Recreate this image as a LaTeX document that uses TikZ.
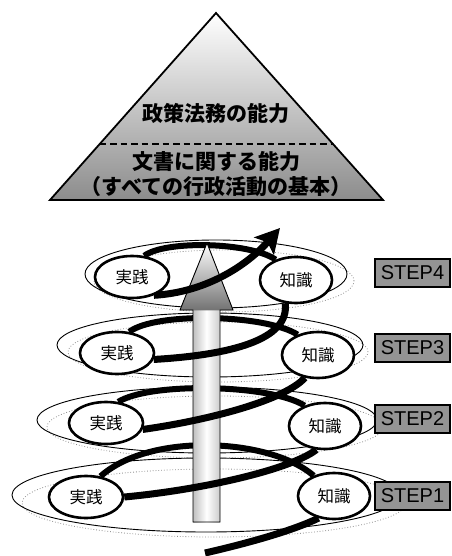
\documentclass[tikz,border=0pt]{standalone}
\usepackage{fontspec}
\newfontfamily\jp{Noto Sans CJK JP}
\newfontfamily\arial{Liberation Sans}
\usetikzlibrary{shapes.geometric,arrows.meta}
\pgfdeclarelayer{ell}
\pgfdeclarelayer{back}
\pgfdeclarelayer{shaft}
\pgfdeclarelayer{front}
\pgfsetlayers{ell,back,shaft,front,main}
\begin{document}
\begin{tikzpicture}[x=1pt,y=-1pt,
  stage/.style={ellipse, draw, line width=2.6pt, fill=white, inner sep=0pt, font=\jp\fontsize{16.5}{18}\selectfont},
  jnode/.style={stage, minimum width=74pt, minimum height=42pt},
  knode/.style={stage, minimum width=72pt, minimum height=46pt},
  ring/.style={draw=black, line width=0.9pt},
  dotring/.style={draw=black!45, line width=0.8pt, dotted},
  coil/.style={line width=6pt},
  coilfront/.style={line width=7pt},
  steplabel/.style={draw, line width=1.2pt, fill=black!42, minimum width=75pt, minimum height=28pt, inner sep=0pt, font=\arial\fontsize{20}{22}\selectfont},
  pyrtext/.style={font=\jp\bfseries\fontsize{21}{25}\selectfont, align=center}
]
\useasboundingbox (0,0) rectangle (451,556);
% pyramid
\path[top color=white, bottom color=black!45, draw, line width=1.8pt, line join=miter] (216,13) -- (383,200) -- (50,200) -- cycle;
\draw[line width=1.8pt, dash pattern=on 6.5pt off 4pt] (99.5,144) -- (332.5,144);
\node[pyrtext] (t1) at (216,113) {政策法務の能力};
\node[pyrtext] (t2) at (216,174.5) {文書に関する能力\\（すべての行政活動の基本）};
% rings
\begin{pgfonlayer}{ell}
\draw[dotring] (214,503) ellipse [x radius=192pt, y radius=34pt];
\draw[ring] (206,495) ellipse [x radius=194pt, y radius=37pt];
\draw[dotring] (215,427) ellipse [x radius=168pt, y radius=31pt];
\draw[ring] (207,420) ellipse [x radius=170pt, y radius=33pt];
\draw[dotring] (218,352) ellipse [x radius=150pt, y radius=30pt];
\draw[ring] (210,345) ellipse [x radius=153pt, y radius=32pt];
\draw[dotring] (224,281) ellipse [x radius=130pt, y radius=31pt];
\draw[ring] (216,274) ellipse [x radius=131pt, y radius=34pt];
\end{pgfonlayer}
% vertical arrow
\begin{pgfonlayer}{shaft}
\fill[left color=black!25, right color=black!20, middle color=white] (193,310) rectangle (220,522);
\fill[top color=white, bottom color=black!55] (180,310) -- (207,243) -- (233,310) -- cycle;
\draw[line width=0.9pt, line join=miter] (193,522) -- (193,310) -- (180,310) -- (207,243) -- (233,310) -- (220,310) -- (220,522) -- cycle;
\end{pgfonlayer}
% nodes
\node[jnode] (j1) at (86,497) {実践};
\node[knode] (k1) at (334,496) {知識};
\node[jnode] (j2) at (106,423) {実践};
\node[knode] (k2) at (325,426) {知識};
\node[jnode] (j3) at (117,353) {実践};
\node[knode] (k3) at (318,355) {知識};
\node[jnode] (j4) at (132,277) {実践};
\node[knode] (k4) at (296,280) {知識};
\coordinate (start) at (205,553);
\coordinate (tip) at (280,228);
\begin{pgfonlayer}{back}
\draw[coil] (k1.135) .. controls (270,438) and (150,432) .. (j1.55);
\draw[coil] (k2.135) .. controls (270,384) and (150,382) .. (j2.60);
\draw[coil] (k3.135) .. controls (265,314) and (155,312) .. (j3.60);
\draw[coil] (k4.135) .. controls (250,242) and (165,240) .. (j4.60);
\end{pgfonlayer}
\begin{pgfonlayer}{front}
\draw[coilfront] (start) .. controls (240,545) and (290,532) .. (k1.235);
\draw[coilfront] (j1.0) .. controls (200,490) and (290,470) .. (k2.250);
\draw[coilfront] (j2.-10) .. controls (210,420) and (285,400) .. (k3.240);
\draw[coilfront] (j3.-10) .. controls (230,355) and (290,340) .. (k4.245);
\draw[coilfront, -{Stealth[length=24pt,width=26pt,inset=5pt]}] (j4.-40) .. controls (210,292) and (250,262) .. (tip);
\end{pgfonlayer}
% step labels
\node[steplabel] (s4) at (412.5,273) {STEP4};
\node[steplabel] (s3) at (412.5,348) {STEP3};
\node[steplabel] (s2) at (412.5,419) {STEP2};
\node[steplabel] (s1) at (412.5,496) {STEP1};
\end{tikzpicture}
\end{document}
